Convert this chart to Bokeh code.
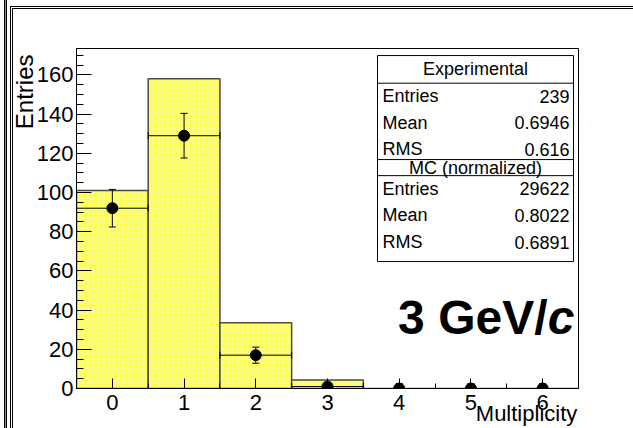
from bokeh.plotting import figure
from bokeh.models import (Range1d, SingleIntervalTicker, Whisker, ColumnDataSource,
                          Label, TeeHead, InlineStyleSheet)
from bokeh.embed import file_html
from bokeh.resources import INLINE

# ---------------- data ----------------
multiplicity = [0, 1, 2, 3, 4, 5, 6]
exp_counts = [92, 129, 17, 1, 0, 0, 0]
exp_err = [9.6, 11.4, 4.1, 1.0, 2.5, 2.5, 2.5]
mc_counts = [101, 158, 33.5, 4.3, 0, 0, 0]
bin_half = 0.5

stats_exp_names = ["Entries", "Mean", "RMS"]
stats_exp_values = ["239", "0.6946", "0.616"]
stats_mc_names = ["Entries", "Mean", "RMS"]
stats_mc_values = ["29622", "0.8022", "0.6891"]

y_ticks_interval = 20
x_tick_labels = ["0", "1", "2", "3", "4", "5", "6"]
x_title = "Multiplicity"
y_title = "Entries"

FONT = "Liberation Sans"
NBSP = "\u00a0"

# ---------------- figure ----------------
p = figure(width=633, height=428, output_backend="svg", toolbar_location=None,
           x_range=Range1d(-0.5, 6.5), y_range=Range1d(0, 173.5),
           min_border_left=76, min_border_right=55, min_border_top=48,
           min_border_bottom=40)
p.stylesheets = [InlineStyleSheet(css="""
:host { position: relative; }
:host::before { content: ""; position: absolute; left: 4px; top: 0px; width: 1px;
  height: 100%; background: #888; border-left: 1px solid #000;
  border-right: 1px solid #000; pointer-events: none; z-index: 20; }
:host::after { content: ""; position: absolute; left: 10px; top: 6px; right: 0px;
  bottom: 0px; border-left: 3px double #000; border-top: 3px double #000;
  pointer-events: none; z-index: 20; }
""")]
p.xgrid.visible = False
p.ygrid.visible = False
p.outline_line_color = "black"
p.outline_line_width = 1
p.background_fill_color = "white"
p.border_fill_color = "white"

# pixel -> data helpers for annotation placement
def dx(px):
    return -0.5 + (px - 76) / 71.71

def dy(py):
    return (388.3 - py) / 1.95

# MC histogram (filled bars)
src_mc = ColumnDataSource(dict(
    left=[m - bin_half for m in multiplicity],
    right=[m + bin_half for m in multiplicity],
    top=mc_counts,
    bottom=[0] * len(mc_counts)))
p.quad(left="left", right="right", top="top", bottom="bottom", source=src_mc,
       fill_color="#ffff5a", line_color="#4a4a4a", line_width=1.5,
       hatch_pattern="dot", hatch_color="#f4f4c8", hatch_scale=5, hatch_weight=1.5)

# experimental points with errors
src_exp = ColumnDataSource(dict(
    x=multiplicity, y=exp_counts,
    lo=[c - e for c, e in zip(exp_counts, exp_err)],
    hi=[c + e for c, e in zip(exp_counts, exp_err)]))
vw = Whisker(base="x", lower="lo", upper="hi", source=src_exp, dimension="height",
             line_color="black", line_width=1, level="annotation",
             upper_head=TeeHead(size=7, line_color="black", line_width=1),
             lower_head=TeeHead(size=7, line_color="black", line_width=1))
src_h = ColumnDataSource(dict(
    y=[c for c in exp_counts if c > 0],
    xl=[m - bin_half for m, c in zip(multiplicity, exp_counts) if c > 0],
    xh=[m + bin_half for m, c in zip(multiplicity, exp_counts) if c > 0]))
hw = Whisker(base="y", lower="xl", upper="xh", source=src_h, dimension="width",
             line_color="black", line_width=1, level="annotation",
             upper_head=TeeHead(size=7, line_color="black", line_width=1),
             lower_head=TeeHead(size=7, line_color="black", line_width=1))
p.add_layout(vw)
p.add_layout(hw)
p.scatter(x="x", y="y", source=src_exp, size=11, marker="circle",
          fill_color="black", line_color="black")

# ---------------- axes ----------------
p.xaxis.ticker = SingleIntervalTicker(interval=1, num_minor_ticks=2)
p.xaxis.major_label_overrides = {i: t for i, t in enumerate(x_tick_labels)}
p.yaxis.ticker = SingleIntervalTicker(interval=y_ticks_interval, num_minor_ticks=4)
for ax in (p.xaxis, p.yaxis):
    ax.axis_line_color = "black"
    ax.major_tick_line_color = "black"
    ax.minor_tick_line_color = "black"
    ax.major_tick_out = 0
    ax.minor_tick_out = 0
    ax.major_label_text_font = FONT
    ax.major_label_text_font_size = "22px"
    ax.major_label_text_color = "black"
    ax.axis_label_text_font = FONT
    ax.axis_label_text_font_style = "normal"
    ax.axis_label_text_color = "black"
    try:
        ax.axis_label_align = "end"
    except Exception:
        pass
p.xaxis.major_tick_in = 10
p.xaxis.minor_tick_in = 5
p.yaxis.major_tick_in = 15
p.yaxis.minor_tick_in = 7
p.xaxis.major_label_standoff = 6
p.yaxis.major_label_standoff = 3

# axis titles at the far end of each axis (ROOT style)
p.xaxis.axis_label = x_title + NBSP * 17
p.xaxis.axis_label_text_font_size = "22px"
p.xaxis.axis_label_text_line_height = 0.7
p.xaxis.axis_label_standoff = -12
p.yaxis.axis_label = y_title + NBSP * 13
p.yaxis.axis_label_text_font_size = "24px"
p.yaxis.axis_label_standoff = -4

# ---------------- stats box ----------------
bl, br, bt, bb = dx(377), dx(573), dy(57), dy(262)
p.quad(left=[bl], right=[br], top=[bt], bottom=[bb], fill_color="white",
       line_color="black", line_width=1)
sep_y = [dy(84.5), dy(160.5), dy(176.5)]
p.segment(x0=[bl] * 3, x1=[br] * 3, y0=sep_y, y1=sep_y, line_color="black", line_width=1)

def txt(x, y, t, align):
    p.add_layout(Label(x=x, y=y, text=t, text_align=align, text_baseline="middle",
                       text_font=FONT, text_font_size="18px", text_color="black"))

txt((bl + br) / 2, dy(70.5), "Experimental", "center")
rows1 = [dy(97.5), dy(124), dy(150)]
for n, v, yy in zip(stats_exp_names, stats_exp_values, rows1):
    txt(dx(382), yy, n, "left")
    txt(dx(569), yy, v, "right")
txt((bl + br) / 2, dy(168.5), "MC (normalized)", "center")
rows2 = [dy(189.5), dy(216), dy(243)]
for n, v, yy in zip(stats_mc_names, stats_mc_values, rows2):
    txt(dx(382), yy, n, "left")
    txt(dx(569), yy, v, "right")

# momentum label
p.add_layout(Label(x=dx(547), y=dy(318), text="3 GeV/", text_align="right",
                   text_baseline="alphabetic", text_font=FONT,
                   text_font_size="48px", text_font_style="bold", text_color="black"))
p.add_layout(Label(x=dx(574), y=dy(318), text="c", text_align="right",
                   text_baseline="alphabetic", text_font=FONT,
                   text_font_size="48px", text_font_style="bold italic", text_color="black"))

open("out.html", "w").write(file_html(p, INLINE))
